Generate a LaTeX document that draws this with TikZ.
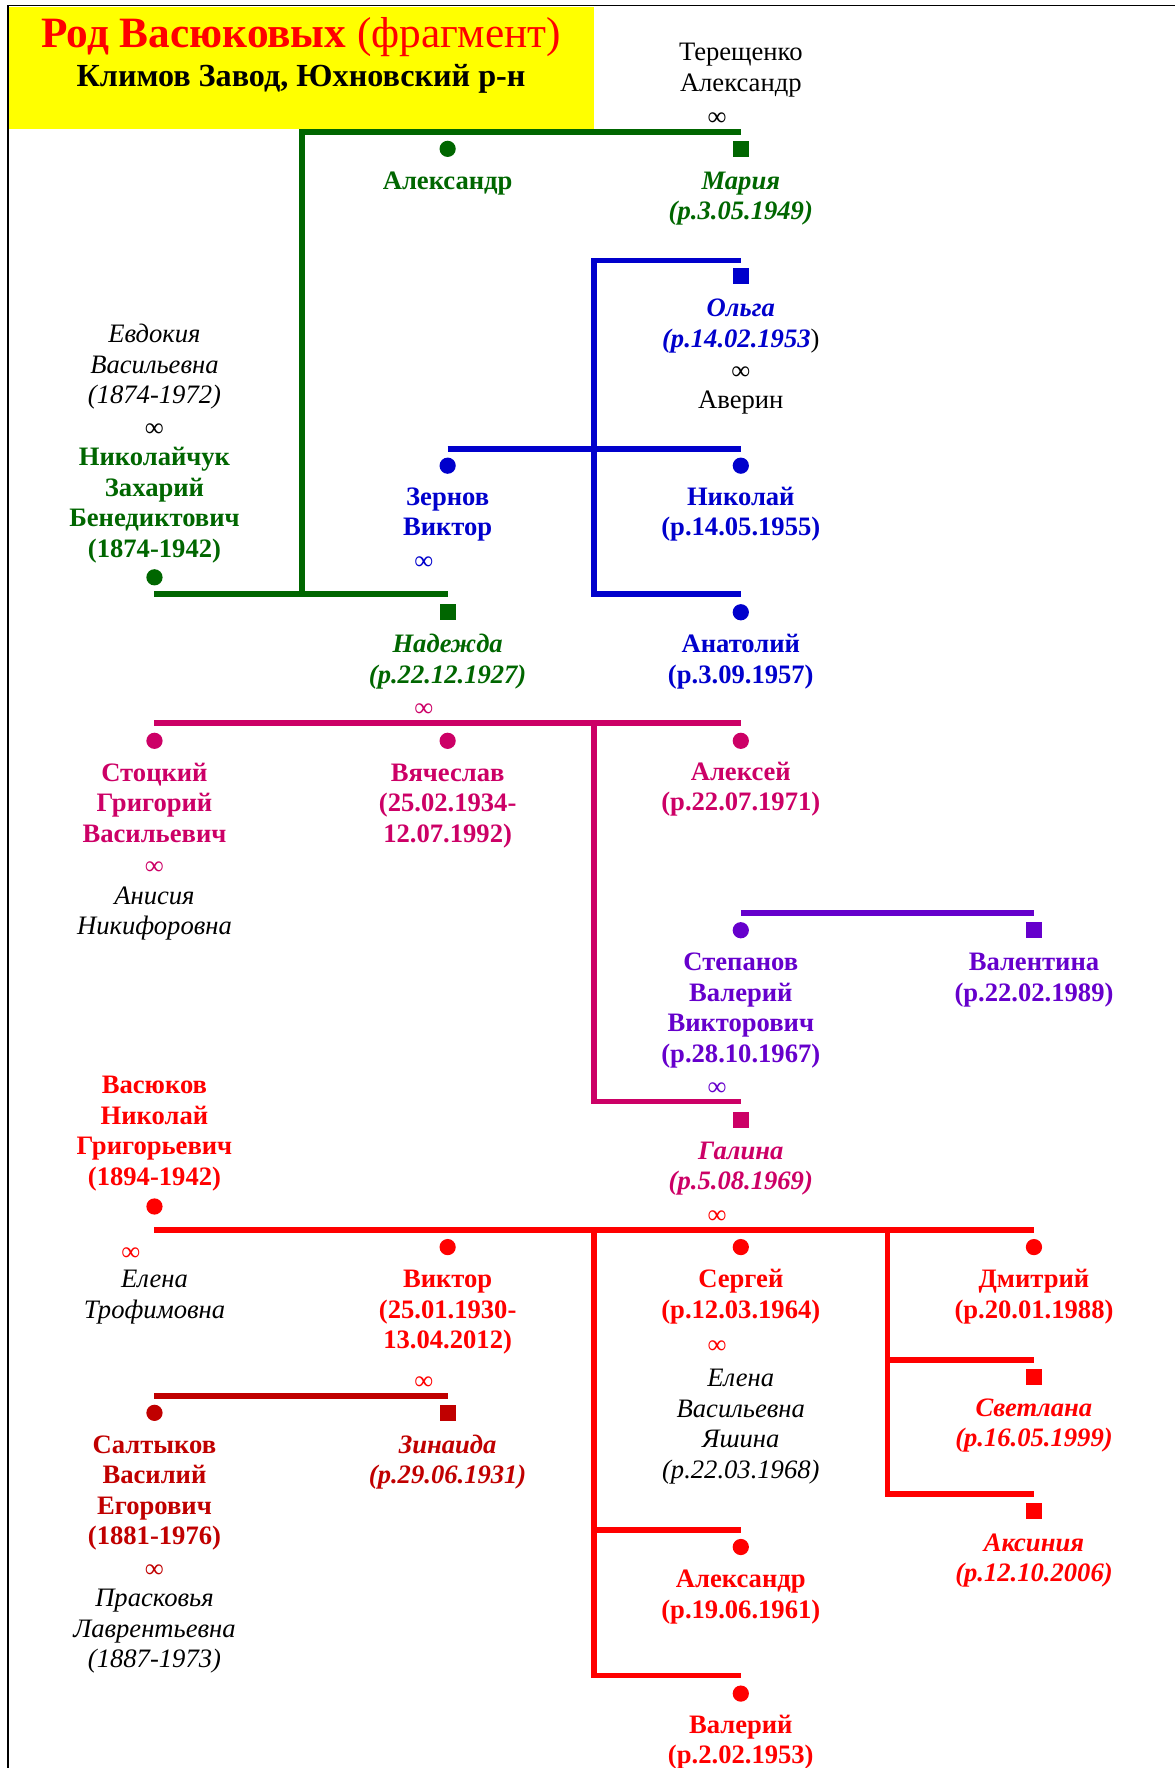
\documentclass[tikz,border=0pt]{standalone}
\usepackage{fontspec}
\setmainfont{Liberation Serif}
\usepackage{xcolor}
\usepackage{tikz}
\usetikzlibrary{positioning}
\definecolor{FamGreen}{HTML}{006600}
\definecolor{FamBlue}{HTML}{0000CC}
\definecolor{FamPink}{HTML}{CC0066}
\definecolor{FamViolet}{HTML}{6600CC}
\definecolor{FamRed}{HTML}{FF0000}
\definecolor{FamDark}{HTML}{C00000}
\definecolor{FamYellow}{HTML}{FFFF00}
\newcommand{\bodysz}{\fontsize{17.7}{20.25}\selectfont}
\tikzset{
  male/.style={circle, fill=#1, inner sep=0pt, minimum size=10.8pt},
  female/.style={rectangle, fill=#1, inner sep=0pt, minimum size=10.8pt},
  bus/.style={draw=#1, line width=3.8pt},
  pname/.style={align=center, inner sep=0pt, anchor=base, font=\bodysz, text=#1},
  wedmark/.style={inner sep=0pt, anchor=base, font=\bodysz, text=#1}
}

\begin{document}
\begin{tikzpicture}[x=0.75pt, y=-0.75pt]
  \useasboundingbox (0,0) rectangle (1042,1568);
  % frame and title
  \draw[line width=1.1pt] (7,1568) -- (7,5) -- (1042,5);
  \fill[FamYellow] (8,6) rectangle (527,114);
  \node[anchor=base, inner sep=0pt, text=FamRed, font=\fontsize{28.8}{32}\selectfont] (title) at (267,42) {\textbf{Род Васюковых} (фрагмент)};
  \node[anchor=base, inner sep=0pt, font=\fontsize{21.4}{24}\selectfont\bfseries] (place) at (267,77) {Климов Завод, Юхновский р-н};

  % green family
  \node[pname=black] (tereshT) at (657,81) {Терещенко\\Александр};
  \node[wedmark=black] (tereshW) at (636,111) {∞};
  \node[male=FamGreen] (aleks) at (397,132) {};
  \node[pname=FamGreen, font=\bodysz\bfseries] (aleksT) at (397,168) {Александр};
  \node[female=FamGreen] (maria) at (657,132) {};
  \node[pname=FamGreen, font=\bodysz\bfseries\itshape] (mariaT) at (657,195) {Мария\\(р.3.05.1949)};
  \node[pname=black, font=\bodysz\itshape] (evdT) at (137,358) {Евдокия\\Васильевна\\(1874-1972)};
  \node[wedmark=black] (evdW) at (137,387) {∞};
  \node[pname=FamGreen, font=\bodysz\bfseries] (zakhT) at (137,494) {Николайчук\\Захарий\\Бенедиктович\\(1874-1942)};
  \node[male=FamGreen] (zakh) at (137,512) {};
  \node[female=FamGreen] (nadezh) at (397,543) {};
  \node[pname=FamGreen, font=\bodysz\bfseries\itshape] (nadezhT) at (397,606) {Надежда\\(р.22.12.1927)};
  \node[wedmark=FamPink] (nadezhW) at (376,635) {∞};
  \coordinate (gbus) at (268,527);
  \coordinate (gtop) at (268,117);
  \draw[bus=FamGreen] (zakh |- gbus) -- (nadezh |- gbus);
  \draw[bus=FamGreen] (gbus) -- (gtop) -- (maria |- gtop);

  % blue family
  \node[female=FamBlue] (olga) at (657,245) {};
  \node[pname=FamBlue, font=\bodysz\bfseries\itshape] (olgaT) at (657,308) {Ольга\\(р.14.02.1953\textcolor{black}{\mdseries\upshape)}};
  \node[wedmark=black] (olgaW) at (657,337) {∞};
  \node[pname=black] (averT) at (657,362) {Аверин};
  \node[male=FamBlue] (zernov) at (397,413) {};
  \node[pname=FamBlue, font=\bodysz\bfseries] (zernovT) at (397,475) {Зернов\\Виктор};
  \node[wedmark=FamBlue] (zernovW) at (376,505) {∞};
  \node[male=FamBlue] (nikol) at (657,413) {};
  \node[pname=FamBlue, font=\bodysz\bfseries] (nikolT) at (657,475) {Николай\\(р.14.05.1955)};
  \node[male=FamBlue] (anatol) at (657,543) {};
  \node[pname=FamBlue, font=\bodysz\bfseries] (anatolT) at (657,606) {Анатолий\\(р.3.09.1957)};
  \coordinate (btop) at (527,231);
  \coordinate (bmid) at (527,398);
  \coordinate (bbot) at (527,527);
  \draw[bus=FamBlue] (olga |- btop) -- (btop) -- (bbot) -- (anatol |- bbot);
  \draw[bus=FamBlue] (zernov |- bmid) -- (nikol |- bmid);

  % pink family
  \node[male=FamPink] (stock) at (137,657) {};
  \node[pname=FamPink, font=\bodysz\bfseries] (stockT) at (137,747) {Стоцкий\\Григорий\\Васильевич};
  \node[wedmark=FamPink] (stockW) at (137,776) {∞};
  \node[pname=black, font=\bodysz\itshape] (anisT) at (137,829) {Анисия\\Никифоровна};
  \node[male=FamPink] (vyach) at (397,657) {};
  \node[pname=FamPink, font=\bodysz\bfseries] (vyachT) at (397,747) {Вячеслав\\(25.02.1934-\\12.07.1992)};
  \node[male=FamPink] (aleksey) at (657,657) {};
  \node[pname=FamPink, font=\bodysz\bfseries] (alekseyT) at (657,719) {Алексей\\(р.22.07.1971)};
  \node[female=FamPink] (galina) at (657,993) {};
  \node[pname=FamPink, font=\bodysz\bfseries\itshape] (galinaT) at (657,1055) {Галина\\(р.5.08.1969)};
  \node[wedmark=FamRed] (galinaW) at (636,1085) {∞};
  \coordinate (pbus) at (527,641);
  \coordinate (pbot) at (527,977);
  \draw[bus=FamPink] (stock |- pbus) -- (aleksey |- pbus);
  \draw[bus=FamPink] (pbus) -- (pbot) -- (galina |- pbot);

  % violet family
  \node[male=FamViolet] (stepan) at (657,825) {};
  \node[pname=FamViolet, font=\bodysz\bfseries] (stepanT) at (657,942) {Степанов\\Валерий\\Викторович\\(р.28.10.1967)};
  \node[wedmark=FamViolet] (stepanW) at (636,972) {∞};
  \node[female=FamViolet] (valent) at (917,825) {};
  \node[pname=FamViolet, font=\bodysz\bfseries] (valentT) at (917,888) {Валентина\\(р.22.02.1989)};
  \coordinate (vbus) at (657,810);
  \draw[bus=FamViolet] (stepan |- vbus) -- (valent |- vbus);

  % red family
  \node[pname=FamRed, font=\bodysz\bfseries] (vasyT) at (137,1051) {Васюков\\Николай\\Григорьевич\\(1894-1942)};
  \node[male=FamRed] (vasy) at (137,1070) {};
  \node[wedmark=FamRed] (vasyW) at (116,1118) {∞};
  \node[pname=black, font=\bodysz\itshape] (elenaT) at (137,1169) {Елена\\Трофимовна};
  \node[male=FamRed] (viktor) at (397,1106) {};
  \node[pname=FamRed, font=\bodysz\bfseries] (viktorT) at (397,1196) {Виктор\\(25.01.1930-\\13.04.2012)};
  \node[wedmark=FamRed] (viktorW) at (376,1232) {∞};
  \node[male=FamRed] (sergey) at (657,1106) {};
  \node[pname=FamRed, font=\bodysz\bfseries] (sergeyT) at (657,1169) {Сергей\\(р.12.03.1964)};
  \node[wedmark=FamRed] (sergeyW) at (636,1200) {∞};
  \node[pname=black, font=\bodysz\itshape] (yashT) at (657,1311) {Елена\\Васильевна\\Яшина\\(р.22.03.1968)};
  \node[male=FamRed] (dmitr) at (917,1106) {};
  \node[pname=FamRed, font=\bodysz\bfseries] (dmitrT) at (917,1169) {Дмитрий\\(р.20.01.1988)};
  \node[female=FamRed] (svetl) at (917,1221) {};
  \node[pname=FamRed, font=\bodysz\bfseries\itshape] (svetlT) at (917,1283) {Светлана\\(р.16.05.1999)};
  \node[female=FamRed] (aksin) at (917,1340) {};
  \node[pname=FamRed, font=\bodysz\bfseries\itshape] (aksinT) at (917,1403) {Аксиния\\(р.12.10.2006)};
  \node[male=FamRed] (alex2) at (657,1372) {};
  \node[pname=FamRed, font=\bodysz\bfseries] (alex2T) at (657,1435) {Александр\\(р.19.06.1961)};
  \node[male=FamRed] (valer) at (657,1502) {};
  \node[pname=FamRed, font=\bodysz\bfseries] (valerT) at (657,1564) {Валерий\\(р.2.02.1953)};
  \coordinate (rbus) at (527,1091);
  \coordinate (rmid) at (527,1357);
  \coordinate (rbot) at (527,1486);
  \coordinate (rsub) at (787,1091);
  \coordinate (rsubA) at (787,1206);
  \coordinate (rsubB) at (787,1325);
  \draw[bus=FamRed] (vasy |- rbus) -- (dmitr |- rbus);
  \draw[bus=FamRed] (rbus) -- (rbot) -- (valer |- rbot);
  \draw[bus=FamRed] (rmid) -- (alex2 |- rmid);
  \draw[bus=FamRed] (rsub) -- (rsubB) -- (aksin |- rsubB);
  \draw[bus=FamRed] (rsubA) -- (svetl |- rsubA);

  % dark red family
  \node[male=FamDark] (saltyk) at (137,1253) {};
  \node[pname=FamDark, font=\bodysz\bfseries] (saltykT) at (137,1370) {Салтыков\\Василий\\Егорович\\(1881-1976)};
  \node[wedmark=FamDark] (saltykW) at (137,1399) {∞};
  \node[pname=black, font=\bodysz\itshape] (praskT) at (137,1479) {Прасковья\\Лаврентьевна\\(1887-1973)};
  \node[female=FamDark] (zinaida) at (397,1253) {};
  \node[pname=FamDark, font=\bodysz\bfseries\itshape] (zinaidaT) at (397,1316) {Зинаида\\(р.29.06.1931)};
  \coordinate (dbus) at (137,1238);
  \draw[bus=FamDark] (saltyk |- dbus) -- (zinaida |- dbus);
\end{tikzpicture}
\end{document}
